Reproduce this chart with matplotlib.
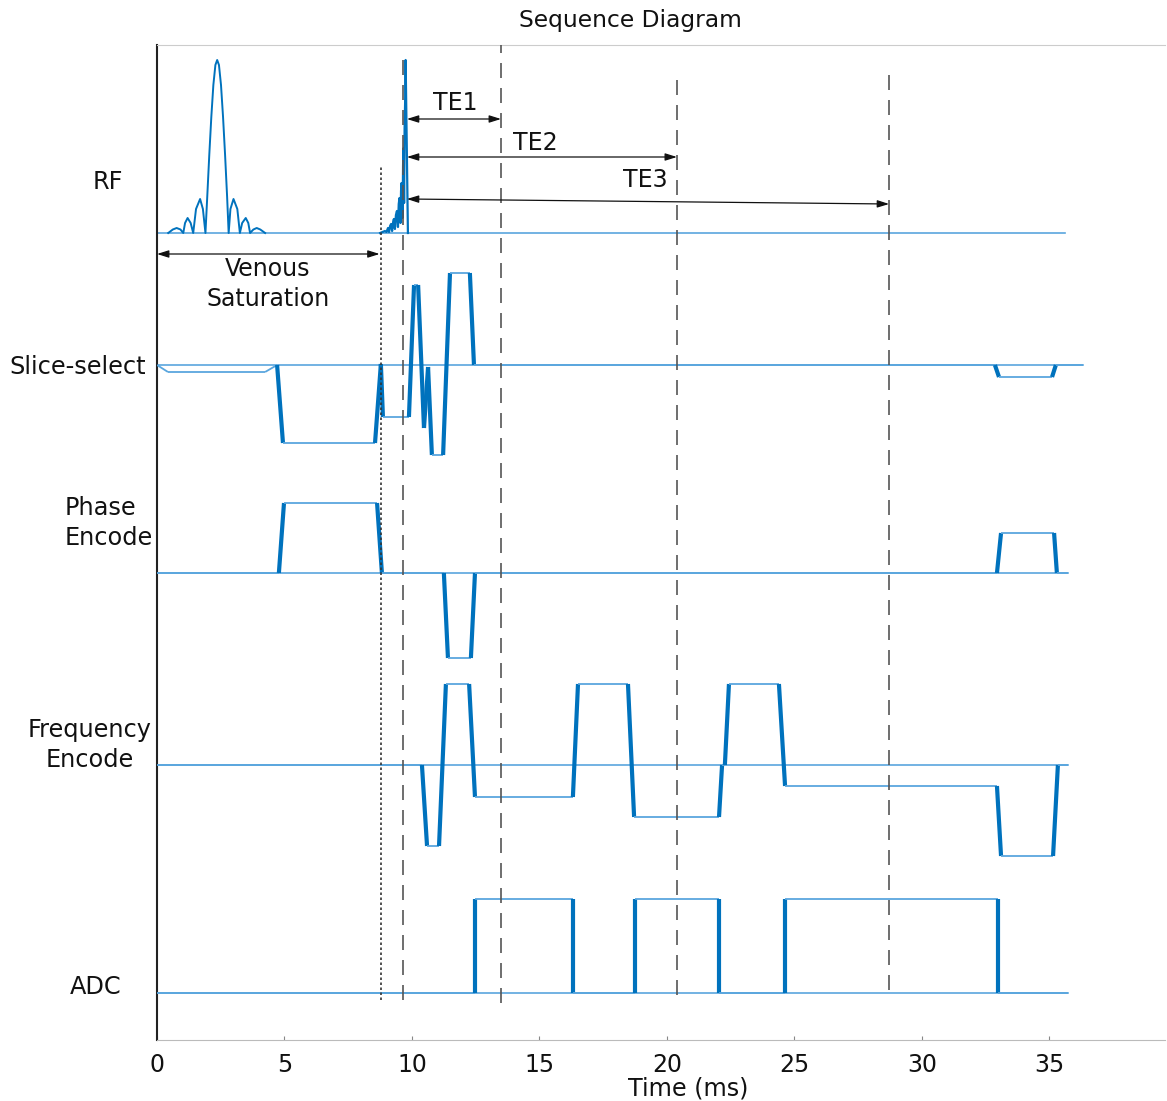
import matplotlib.pyplot as plt
import numpy as np
from matplotlib.collections import LineCollection

# times in ms, amplitudes in plot units above each lane's baseline
rf1_t = [0.44, 0.62, 0.77, 0.92, 1.03, 1.10, 1.20, 1.32, 1.42, 1.53, 1.69, 1.80, 1.90,
         1.97, 2.05, 2.13, 2.21, 2.29, 2.36, 2.43, 2.51, 2.59, 2.67, 2.75, 2.81,
         2.88, 3.00, 3.15, 3.25, 3.34, 3.48, 3.58, 3.65, 3.78, 3.91, 4.05, 4.24]
rf1_a = [0, 0.35, 0.5, 0.35, 0, 1.0, 1.5, 1.0, 0, 2.4, 3.4, 2.4, 0,
         3.6, 7.8, 11.6, 14.8, 16.8, 17.3, 16.8, 14.8, 11.6, 7.8, 3.6, 0,
         2.4, 3.4, 2.4, 0, 1.0, 1.5, 1.0, 0, 0.35, 0.5, 0.35, 0]
rf2_t = [8.75, 8.94, 9.00, 9.06, 9.10, 9.14, 9.18, 9.22, 9.26, 9.29, 9.33, 9.37, 9.41,
         9.45, 9.48, 9.51, 9.55, 9.57, 9.59, 9.63, 9.65, 9.67, 9.69, 9.71, 9.73, 9.75, 9.84]
rf2_a = [0, 0.2, 0.1, 0.5, 0.1, 0.7, 0.9, 0.2, 1.1, 1.4, 0.4, 1.8, 2.2,
         0.6, 2.9, 3.5, 1.0, 4.2, 5.0, 1.5, 6.8, 8.5, 3.0, 10.5, 13.0, 17.3, 0]

ss_t = [0, 0.43, 4.24, 4.71, 4.94, 8.55, 8.78, 8.86, 9.88, 10.08, 10.24, 10.47, 10.63,
        10.78, 11.22, 11.49, 12.27, 12.43, 32.86, 33.02, 35.10, 35.25, 36.31]
ss_a = [0, -0.7, -0.7, 0, -7.8, -7.8, 0.1, -5.2, -5.2, 8.0, 8.0, -6.3, -0.2,
        -9.0, -9.0, 9.2, 9.2, 0, 0, -1.2, -1.2, 0, 0]

pe_t = [0, 4.78, 4.98, 8.63, 8.82, 11.25, 11.41, 12.31, 12.47, 32.94, 33.10, 35.18, 35.29, 35.73]
pe_a = [0, 0, 7.0, 7.0, 0, 0, -8.5, -8.5, 0, 0, 4.0, 4.0, 0, 0]

fe_t = [0, 10.39, 10.59, 11.06, 11.33, 12.24, 12.47, 16.31, 16.51, 18.47, 18.71, 22.04,
        22.16, 22.27, 22.43, 24.39, 24.63, 32.94, 33.10, 35.14, 35.33, 35.73]
fe_a = [0, 0, -8.1, -8.1, 8.1, 8.1, -3.2, -3.2, 8.1, 8.1, -5.2, -5.2,
        0, 0, 8.1, 8.1, -2.1, -2.1, -9.1, -9.1, 0, 0]

adc_on = [12.47, 18.75, 24.63]
adc_off = [16.31, 22.04, 32.98]
adc_high = 9.4
adc_end = 35.73

lanes = ['RF', 'Slice-select', 'Phase\nEncode', 'Frequency\nEncode', 'ADC']
base = [80.7, 67.5, 46.7, 27.5, 4.7]
lane_end = [35.6, 36.31, 35.73, 35.73, 35.73]

sat_end = 8.78
rf_center = 9.65
te_start = 9.80
te_end = [13.49, 20.39, 28.71]
te_names = ['TE1', 'TE2', 'TE3']

blue = '#0072BD'
light = '#5aa6de'

fig = plt.figure(figsize=(11.67, 11.01), dpi=100)
ax = fig.add_axes([157/1167, 1-1040/1101, 1008/1167, 995/1101])
ax.set_xlim(0, 39.53)
ax.set_ylim(0, 99.5)


def draw(t, a, b):
    t = np.array(t, float)
    y = np.array(a, float) + b
    pts = np.column_stack([t, y])
    segs = np.stack([pts[:-1], pts[1:]], axis=1)
    steep = np.abs(np.diff(y)) > 5 * np.diff(t)
    lw = np.where(steep, 3.0, 1.3)
    cols = np.where(steep, blue, light)
    ax.add_collection(LineCollection(segs, linewidths=lw, colors=cols, zorder=3,
                                     capstyle='butt'))


# baselines
for b, e in zip(base, lane_end):
    ax.plot([0, e], [b, b], color=light, lw=1.2, zorder=2)

ax.plot(rf1_t, np.array(rf1_a) + base[0], color=blue, lw=1.4, zorder=3)
ax.plot(rf2_t, np.array(rf2_a) + base[0], color=blue, lw=1.6, zorder=3)
draw(ss_t, ss_a, base[1])
draw(pe_t, pe_a, base[2])
draw(fe_t, fe_a, base[3])

adc_t = [0]
adc_y = [0]
for on, off in zip(adc_on, adc_off):
    adc_t += [on, on, off, off]
    adc_y += [0, adc_high, adc_high, 0]
adc_t.append(adc_end)
adc_y.append(0)
draw(adc_t, adc_y, base[4])

# timing markers
ax.plot([sat_end, sat_end], [4.0, 87.5], color='#333333', lw=1.2,
        linestyle=(0, (1.5, 1.5)), zorder=4)
ax.plot([rf_center, rf_center], [4.0, 98.0], color='#555555', lw=1.2,
        linestyle=(0, (9, 6)), zorder=4)
for x, top, bot in zip(te_end, [99.5, 97.0, 97.0], [3.7, 4.5, 5.0]):
    ax.plot([x, x], [bot, top], color='#555555', lw=1.2, linestyle=(0, (9, 6)), zorder=4)

arrow = dict(arrowstyle='<|-|>,head_length=0.7,head_width=0.22', color='#111111', lw=0.9,
             shrinkA=0, shrinkB=0)
te_y0 = [92.1, 88.3, 84.1]
te_y1 = [92.1, 88.3, 83.6]
te_lab = [(11.69, 93.7), (14.82, 89.7), (19.14, 86.0)]
for name, e, y0, y1, (lx, ly) in zip(te_names, te_end, te_y0, te_y1, te_lab):
    ax.annotate('', xy=(e, y1), xytext=(te_start, y0), arrowprops=arrow, zorder=5)
    ax.text(lx, ly, name, ha='center', va='center', fontsize=17, color='#111111')

ax.annotate('', xy=(sat_end - 0.05, 78.6), xytext=(0.0, 78.6), arrowprops=arrow, zorder=5)
ax.text(4.35, 75.6, 'Venous\nSaturation', ha='center', va='center', fontsize=17,
        linespacing=1.3, color='#111111')

# lane labels
lab_pos = [(108, 182, 'center'), (78, 367, 'center'), (65, 523, 'left'),
           (90, 745, 'center'), (96, 987, 'center')]
for name, (px, py, ha) in zip(lanes, lab_pos):
    fig.text(px/1167, 1-py/1101, name, ha=ha, va='center', fontsize=17.3,
             multialignment='left' if ha == 'left' else 'center', linespacing=1.3,
             color='#111111')

fig.text(630/1167, 1-20/1101, 'Sequence Diagram', ha='center', va='center',
         fontsize=16.8, color='#111111')

ax.set_xticks(range(0, 40, 5))
ax.set_yticks([])
ax.tick_params(axis='x', length=3, direction='in', color='#888888', labelsize=17,
               pad=9, labelcolor='#111111')
ax.set_xlabel('Time (ms)', fontsize=17.2, color='#111111')
ax.xaxis.set_label_coords(0.527, -0.037)
ax.spines['right'].set_visible(False)
ax.spines['top'].set_color('#cccccc')
ax.spines['bottom'].set_color('#bbbbbb')
ax.spines['left'].set_color('#222222')
ax.spines['left'].set_linewidth(1.5)

fig.savefig('out.png', dpi=100)
